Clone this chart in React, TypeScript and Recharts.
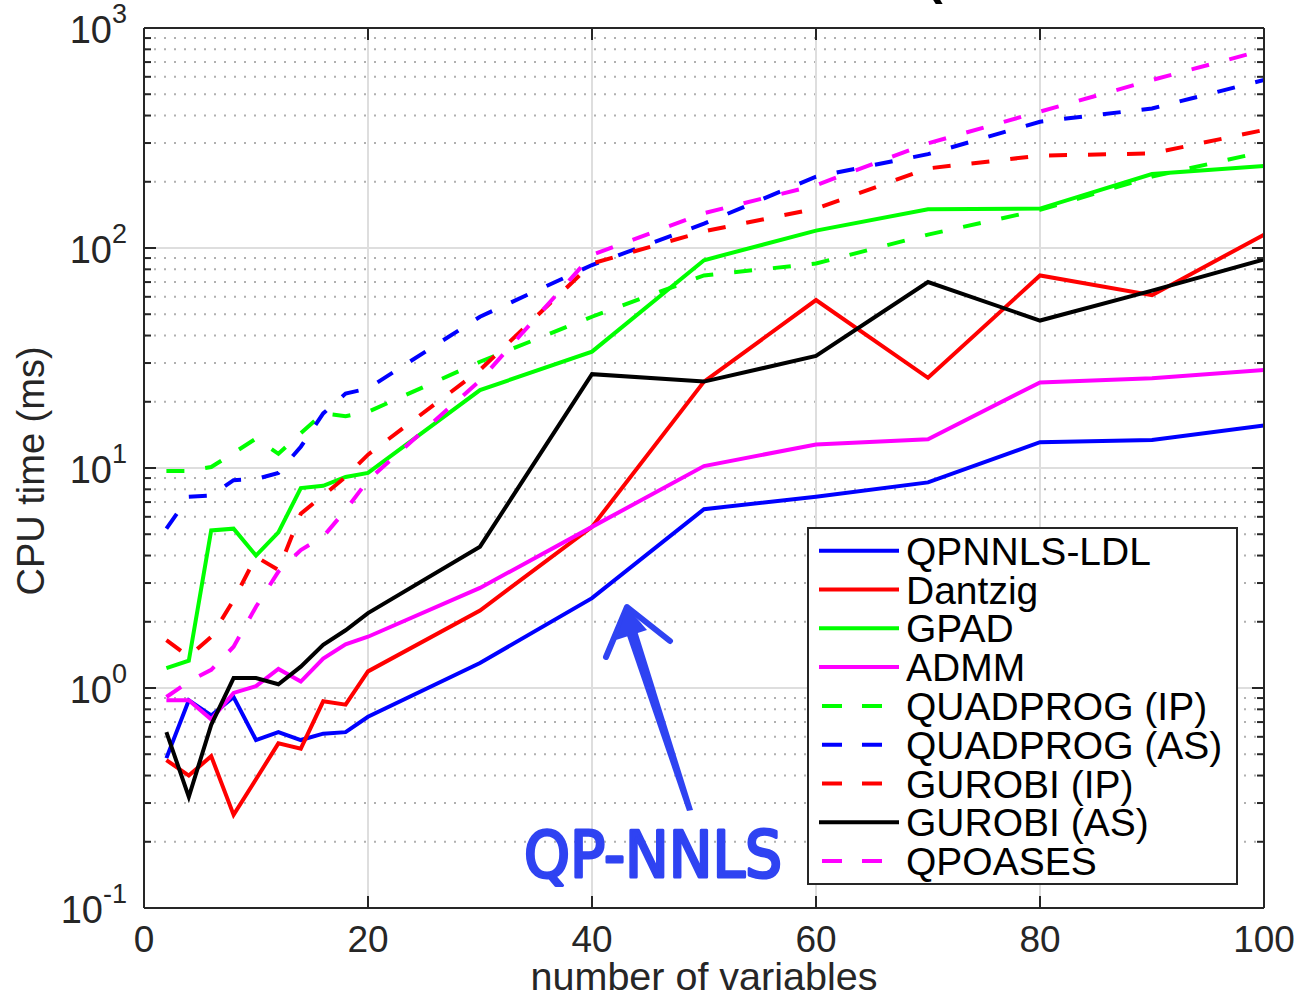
import React from 'react';
import { LineChart, Line, XAxis, YAxis, CartesianGrid, Legend, Customized } from 'recharts';

// ---------- data ----------
const variables = [2, 4, 6, 8, 10, 12, 14, 16, 18, 20, 30, 40, 50, 60, 70, 80, 90, 100];

const qpnnlsLdl = [0.48, 0.88, 0.75, 0.91, 0.58, 0.63, 0.58, 0.62, 0.63, 0.74, 1.3, 2.56, 6.5, 7.4, 8.6, 13.1, 13.4, 15.6];
const dantzig = [0.47, 0.4, 0.49, 0.265, 0.385, 0.56, 0.53, 0.87, 0.84, 1.19, 2.25, 5.4, 24.7, 58, 25.7, 75, 61, 115];
const gpad = [1.23, 1.33, 5.2, 5.3, 4.0, 5.1, 8.1, 8.3, 9.1, 9.5, 22.6, 33.8, 88, 120, 150, 151, 217, 236];
const admm = [0.88, 0.88, 0.72, 0.95, 1.02, 1.22, 1.07, 1.36, 1.58, 1.71, 2.85, 5.4, 10.2, 12.8, 13.5, 24.5, 25.6, 27.9];
const quadprogIp = [9.7, 9.7, 10.1, 11.7, 13.6, 11.6, 14.4, 17.7, 17.2, 18, 30.4, 48.7, 75, 85, 115, 149, 211, 274];
const quadprogAs = [5.3, 7.4, 7.5, 8.8, 8.9, 9.5, 12.5, 17.7, 21.8, 23, 48.7, 83.7, 129, 211, 267, 375, 431, 580];
const gurobiIp = [1.65, 1.39, 1.71, 2.51, 3.95, 3.44, 6.2, 7.5, 9.1, 11.5, 27.9, 85, 119, 151, 230, 263, 269, 344];
const gurobiAs = [0.63, 0.32, 0.68, 1.11, 1.11, 1.04, 1.25, 1.57, 1.83, 2.19, 4.39, 26.7, 24.7, 32.3, 70, 46.8, 64, 88.8];
const qpoases = [0.91, 1.07, 1.21, 1.54, 2.34, 3.38, 4.24, 4.87, 6.44, 8.8, 25, 93, 144, 193, 299, 417, 580, 794];

const xTicks = [0, 20, 40, 60, 80, 100];
const yMajorTicks = [0.1, 1, 10, 100, 1000];
const yExpLabels = ['-1', '0', '1', '2', '3'];
const yMinorTicks = [0.1, 1, 10, 100].flatMap((d) => [2, 3, 4, 5, 6, 7, 8, 9].map((m) => +(m * d).toPrecision(3)));
const yAllTicks = [...yMajorTicks, ...yMinorTicks].sort((a, b) => a - b);
const xGridValues = [20, 40, 60, 80];
const yGridValues = [1, 10, 100];

const xLabel = 'number of variables';
const yLabel = 'CPU time (ms)';
const annotationText = 'QP-NNLS';

const series = [
  { key: 'qpnnlsLdl', name: 'QPNNLS-LDL', color: '#0000ff', dashed: false, values: qpnnlsLdl },
  { key: 'dantzig', name: 'Dantzig', color: '#ff0000', dashed: false, values: dantzig },
  { key: 'gpad', name: 'GPAD', color: '#00ff00', dashed: false, values: gpad },
  { key: 'admm', name: 'ADMM', color: '#ff00ff', dashed: false, values: admm },
  { key: 'quadprogIp', name: 'QUADPROG (IP)', color: '#00ff00', dashed: true, values: quadprogIp },
  { key: 'quadprogAs', name: 'QUADPROG (AS)', color: '#0000ff', dashed: true, values: quadprogAs },
  { key: 'gurobiIp', name: 'GUROBI (IP)', color: '#ff0000', dashed: true, values: gurobiIp },
  { key: 'gurobiAs', name: 'GUROBI (AS)', color: '#000000', dashed: false, values: gurobiAs },
  { key: 'qpoases', name: 'QPOASES', color: '#ff00ff', dashed: true, values: qpoases },
];

const data = variables.map((n, i) => {
  const row: Record<string, number> = { n };
  series.forEach((s) => {
    row[s.key] = s.values[i];
  });
  return row;
});

// ---------- style ----------
const FONT = '"Liberation Sans", Arial, Helvetica, sans-serif';
const AXIS = '#262626';
const TEXT = '#262626';
const DASH = '18 21';
const LW = 4;

const isMajor = (v: number) => yMajorTicks.findIndex((m) => Math.abs(m - v) / m < 1e-6);

const LeftYTick = (props: any) => {
  const { x, y, payload } = props;
  const idx = isMajor(payload.value);
  const major = idx >= 0;
  return (
    <g>
      <line x1={x} x2={x + (major ? 12 : 7)} y1={y} y2={y} stroke={AXIS} strokeWidth={2} />
      {major && (
        <text x={x - 17} y={y + 15} textAnchor="end" fontSize={38} fill={TEXT} fontFamily={FONT}>
          10
          <tspan dy={-20} fontSize={27}>
            {yExpLabels[idx]}
          </tspan>
        </text>
      )}
    </g>
  );
};

const RightYTick = (props: any) => {
  const { x, y, payload } = props;
  const major = isMajor(payload.value) >= 0;
  return <line x1={x} x2={x - (major ? 12 : 7)} y1={y} y2={y} stroke={AXIS} strokeWidth={2} />;
};

const BottomXTick = (props: any) => {
  const { x, y, payload } = props;
  return (
    <g>
      <line x1={x} x2={x} y1={y} y2={y - 12} stroke={AXIS} strokeWidth={2} />
      <text x={x} y={y + 44} textAnchor="middle" fontSize={37} fill={TEXT} fontFamily={FONT}>
        {payload.value}
      </text>
    </g>
  );
};

const TopXTick = (props: any) => {
  const { x, y } = props;
  return <line x1={x} x2={x} y1={y} y2={y + 12} stroke={AXIS} strokeWidth={2} />;
};

const LegendBox = () => (
  <div
    style={{
      width: 431,
      height: 358,
      boxSizing: 'border-box',
      border: `2px solid ${AXIS}`,
      background: '#ffffff',
    }}
  >
    <svg width={427} height={354} style={{ display: 'block' }}>
      {series.map((s, i) => {
        const cy = 21.7 + 38.8 * i;
        return (
          <g key={s.key}>
            {s.dashed ? (
              <line x1={13} x2={73} y1={cy} y2={cy} stroke={s.color} strokeWidth={LW} strokeDasharray="20 20" />
            ) : (
              <line x1={10} x2={90} y1={cy} y2={cy} stroke={s.color} strokeWidth={LW} />
            )}
            <text x={97} y={cy + 14} fontSize={39} fill="#000" fontFamily={FONT}>
              {s.name}
            </text>
          </g>
        );
      })}
    </svg>
  </div>
);

const Decorations = () => {
  const ink = '#2f43f2';
  return (
    <g>
      {/* axis titles */}
      <text x={704} y={990} textAnchor="middle" fontSize={39.5} fill={TEXT} fontFamily={FONT}>
        {xLabel}
      </text>
      <text
        x={0}
        y={0}
        transform="translate(44,471) rotate(-90)"
        textAnchor="middle"
        fontSize={38}
        fill={TEXT}
        fontFamily={FONT}
      >
        {yLabel}
      </text>
      {/* clipped fragment of a title above */}
      <text x={926} y={-6} fontSize={50} fontWeight="bold" fill="#000" fontFamily={FONT}>
        (
      </text>
      {/* hand-drawn annotation */}
      <path d="M687,811 L693,810 L634,621 L623,624 Z" fill={ink} />
      <polyline
        points="606,657 627,607 670,641"
        fill="none"
        stroke={ink}
        strokeWidth={6}
        strokeLinecap="round"
        strokeLinejoin="round"
      />
      <polygon points="627,607 616,640 647,630" fill={ink} />
      <text
        x={524}
        y={877}
        fontSize={64}
        fill={ink}
        stroke={ink}
        strokeWidth={3}
        strokeLinejoin="round"
        fontFamily='"DejaVu Sans", sans-serif'
        textLength={258}
        lengthAdjust="spacingAndGlyphs"
      >
        {annotationText}
      </text>
    </g>
  );
};

export default function App() {
  return (
    <div style={{ position: 'absolute', left: 0, top: 0, background: '#fff' }}>
      <LineChart width={1300} height={998} data={data} margin={{ top: 0, right: 0, bottom: 0, left: 0 }}>
        <CartesianGrid
          horizontalValues={yMinorTicks}
          vertical={false}
          stroke="#b0b0b0"
          strokeDasharray="2 8"
          strokeWidth={2}
        />
        <CartesianGrid horizontalValues={yGridValues} verticalValues={xGridValues} stroke="#dedede" strokeWidth={2} />
        <XAxis
          dataKey="n"
          type="number"
          domain={[0, 100]}
          ticks={xTicks}
          interval={0}
          height={90}
          tickSize={0}
          tickMargin={0}
          tickLine={false}
          axisLine={{ stroke: AXIS, strokeWidth: 2 }}
          tick={<BottomXTick />}
          allowDataOverflow
        />
        <XAxis
          xAxisId="top"
          dataKey="n"
          type="number"
          orientation="top"
          domain={[0, 100]}
          ticks={xTicks}
          interval={0}
          height={28}
          tickSize={0}
          tickMargin={0}
          tickLine={false}
          axisLine={{ stroke: AXIS, strokeWidth: 2 }}
          tick={<TopXTick />}
          allowDataOverflow
        />
        <YAxis
          type="number"
          scale="log"
          domain={[0.1, 1000]}
          ticks={yAllTicks}
          interval={0}
          width={144}
          tickSize={0}
          tickMargin={0}
          tickLine={false}
          axisLine={{ stroke: AXIS, strokeWidth: 2 }}
          tick={<LeftYTick />}
          allowDataOverflow
        />
        <YAxis
          yAxisId="right"
          orientation="right"
          type="number"
          scale="log"
          domain={[0.1, 1000]}
          ticks={yAllTicks}
          interval={0}
          width={36}
          tickSize={0}
          tickMargin={0}
          tickLine={false}
          axisLine={{ stroke: AXIS, strokeWidth: 2 }}
          tick={<RightYTick />}
          allowDataOverflow
        />
        {series.map((s) => (
          <Line
            key={s.key}
            type="linear"
            dataKey={s.key}
            name={s.name}
            stroke={s.color}
            strokeWidth={LW}
            strokeDasharray={s.dashed ? DASH : undefined}
            dot={false}
            activeDot={false}
            isAnimationActive={false}
          />
        ))}
        <Legend
          layout="vertical"
          align="center"
          verticalAlign="middle"
          content={<LegendBox />}
          wrapperStyle={{ left: 807, top: 527, width: 431, height: 358 }}
        />
        <Customized component={Decorations} />
      </LineChart>
    </div>
  );
}
